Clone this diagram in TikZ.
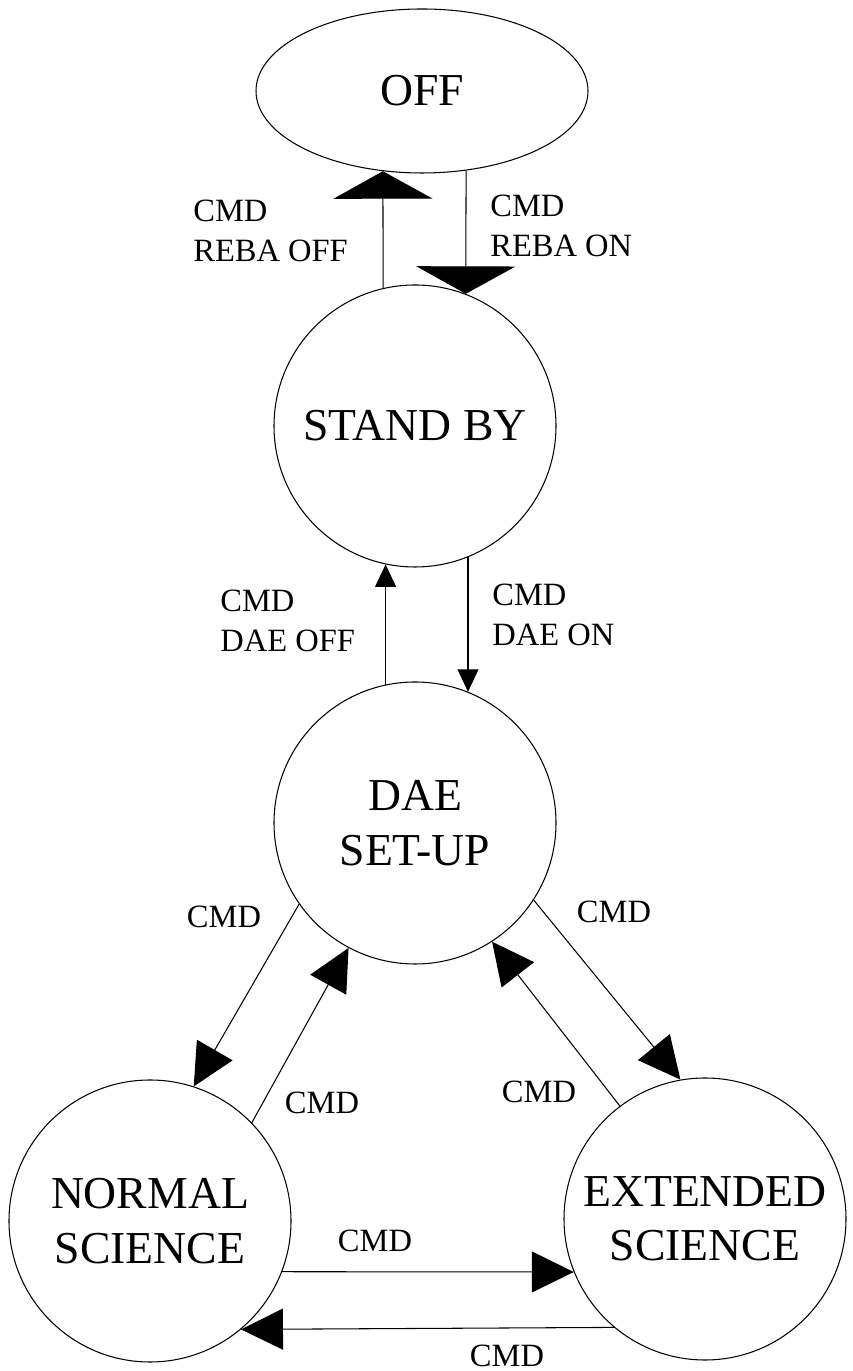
\documentclass[tikz,border=0pt]{standalone}
\usepackage{fontspec}
\setmainfont{Liberation Serif}
\usetikzlibrary{shapes,positioning,arrows.meta}

\begin{document}
\begin{tikzpicture}[
    every node/.style={font=\fontsize{26}{31}\selectfont},
    st/.style={draw, circle, minimum size=5.64cm, inner sep=0pt, align=center, line width=0.6pt},
    lbl/.style={font=\fontsize{18.5}{23}\selectfont, align=left, inner sep=0pt},
    bigtip/.style={line width=0.6pt, -{Triangle[length=0.55cm,width=1.98cm]}},
    smalltip/.style={line width=0.6pt, -{Triangle[length=0.45cm,width=0.42cm]}},
    midtip/.style={line width=0.6pt, -{Triangle[length=0.84cm,width=0.82cm]}}
]
    \useasboundingbox (0,0) rectangle (17.06,27.42);

    % states
    \node[draw, ellipse, minimum width=6.64cm, minimum height=3.28cm, inner sep=0pt, line width=0.6pt] (off) at (8.44,25.60) {OFF};
    \node[st] (sb) at (8.30,18.90) {STAND BY};
    \node[st] (dae) at (8.30,10.96) {DAE\\SET-UP};
    \node[st] (ns) at (3.00,3.00) {NORMAL\\SCIENCE};
    \node[st] (es) at (14.10,3.04) {EXTENDED\\SCIENCE};

    % commands
    \node[lbl, anchor=west] (rebaoff) at (3.86,22.80) {CMD\\REBA OFF};
    \node[lbl, anchor=west] (rebaon) at (9.80,22.90) {CMD\\REBA ON};
    \node[lbl, anchor=west] (daeoff) at (4.40,15.00) {CMD\\DAE OFF};
    \node[lbl, anchor=west] (daeon) at (9.84,15.12) {CMD\\DAE ON};
    \foreach \x/\y [count=\i] in {4.48/9.08, 12.28/9.18, 6.44/5.36, 10.78/5.58, 7.50/2.60, 10.14/0.30}
        \node[lbl] (cmd\i) at (\x,\y) {CMD};

    % transitions
    \draw[bigtip] (sb.103) -- (off.244);
    \draw[bigtip] (off.299) -- (sb.69);
    \draw[smalltip] (dae.102) -- (sb.258);
    \draw[smalltip] (sb.292) -- (dae.68);
    \draw[midtip] (dae.215) -- (ns.72);
    \draw[midtip] (ns.44) -- (dae.242);
    \draw[midtip] (dae.327) -- (es.100);
    \draw[midtip] (es.127) -- (dae.303);
    \draw[midtip] (ns.339) -- (es.202);
    \draw[midtip] (es.230) -- (ns.310);
\end{tikzpicture}
\end{document}
